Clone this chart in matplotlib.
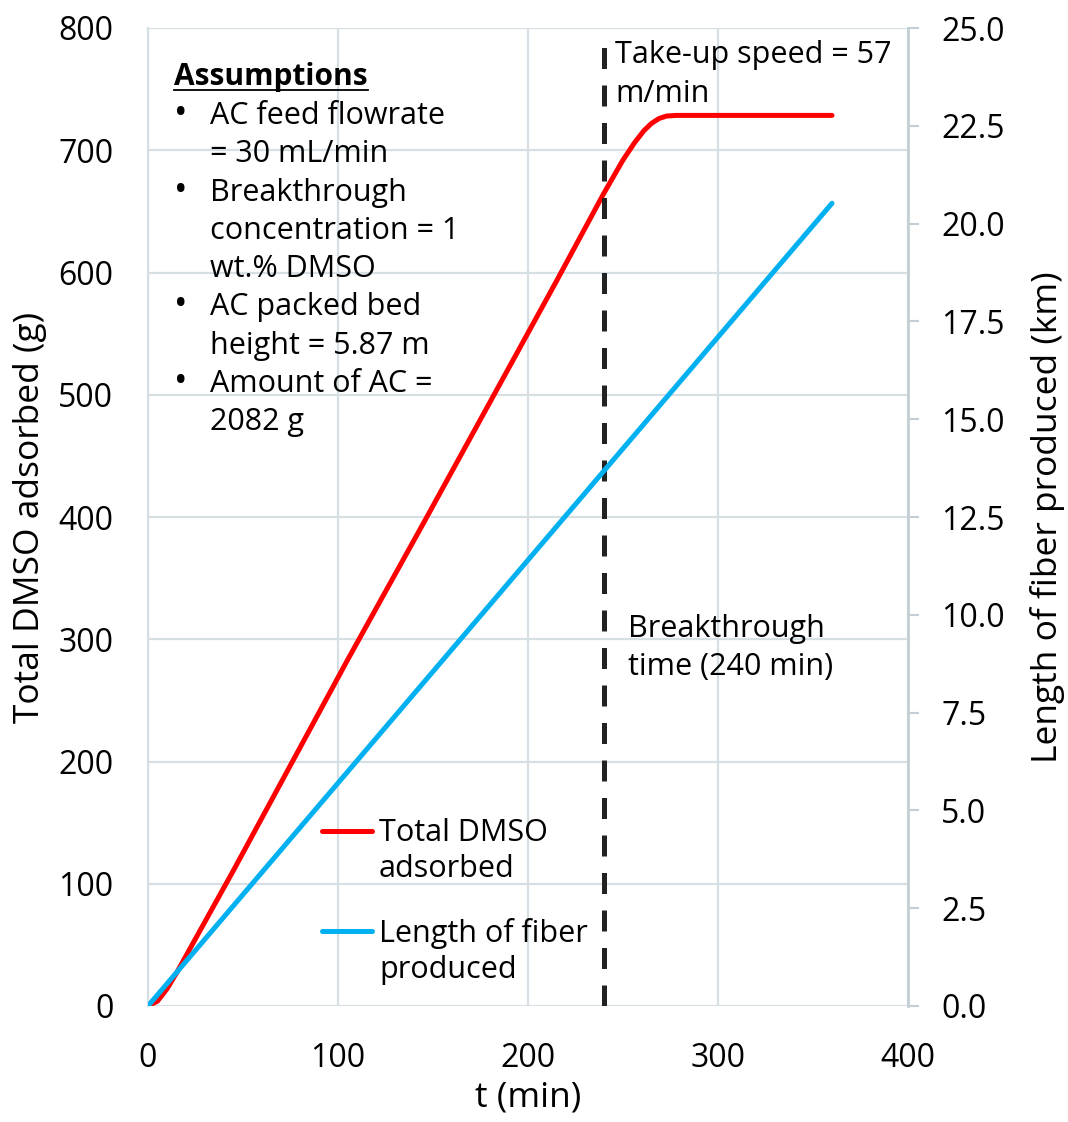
import matplotlib
matplotlib.use("Agg")
import matplotlib.pyplot as plt
from matplotlib.lines import Line2D
from matplotlib.ticker import FormatStrFormatter

W, H = 1068, 1122

# Total DMSO adsorbed (g) vs time (min)
t_dmso = [0, 5, 10, 15, 20, 30, 45, 75, 105, 145, 180, 215, 240, 250, 256,
          261, 265, 269, 273, 278, 300, 330, 360]
dmso_g = [0, 4, 14, 27, 41, 69, 111, 197, 283, 395, 494, 593, 665, 692, 706,
          716, 722, 726, 728, 728.5, 728.5, 728.5, 728.5]

# Length of fiber produced (km) vs time (min)
t_fiber = [0, 120, 240, 360]
fiber_km = [0, 6.84, 13.68, 20.52]

breakthrough_t = 240

assumptions = [
    ("•", "AC feed flowrate"),
    ("", "= 30 mL/min"),
    ("•", "Breakthrough"),
    ("", "concentration = 1"),
    ("", "wt.% DMSO"),
    ("•", "AC packed bed"),
    ("", "height = 5.87 m"),
    ("•", "Amount of AC ="),
    ("", "2082 g"),
]

RED = "#FF0000"
BLUE = "#00B0F0"
GRID = "#D6DFE3"
SPINE = "#C3CFD4"
FONT = "Open Sans"

plt.rcParams["font.family"] = [FONT, "DejaVu Sans"]

fig = plt.figure(figsize=(W / 100, H / 100), dpi=100)
ax = fig.add_axes([148 / W, (H - 1006) / H, 760 / W, 978 / H])
ax2 = ax.twinx()


def fx(px):
    return px / W


def fy(py):
    return 1 - py / H


ax.plot(t_dmso, dmso_g, color=RED, lw=3.6, solid_capstyle="round", zorder=4)
ax2.plot(t_fiber, fiber_km, color=BLUE, lw=3.6, solid_capstyle="round", zorder=4)
ax.plot([breakthrough_t, breakthrough_t], [0, 793], color="#222222", lw=3.6,
        dashes=(4.2, 3.3), zorder=5)

ax.set_xlim(0, 400)
ax.set_ylim(0, 800)
ax2.set_ylim(0, 25)
ax.set_xticks(range(0, 401, 100))
ax.set_yticks(range(0, 801, 100))
ax2.set_yticks([i * 2.5 for i in range(11)])
ax2.yaxis.set_major_formatter(FormatStrFormatter("%.1f"))

ax.grid(True, color=GRID, lw=1.6, zorder=0)
ax.set_axisbelow(True)
ax2.set_zorder(ax.get_zorder() + 1)
ax2.patch.set_visible(False)

for a in (ax, ax2):
    for s in a.spines.values():
        s.set_visible(False)
ax.spines["left"].set_visible(True)
ax.spines["left"].set_color(GRID)
ax.spines["left"].set_linewidth(1.6)
ax2.spines["right"].set_visible(True)
ax2.spines["right"].set_color(SPINE)
ax2.spines["right"].set_linewidth(2)

ax.tick_params(axis="x", length=0, pad=26, labelsize=23)
ax.tick_params(axis="y", length=0, pad=25, labelsize=23)
ax2.tick_params(axis="y", length=8, width=1.5, color=SPINE, direction="out",
                pad=16, labelsize=23)

ax.set_xlabel("t (min)", fontsize=25.5, labelpad=4)
ax.set_ylabel("Total DMSO adsorbed (g)", fontsize=25.5, labelpad=8)
ax2.set_ylabel("Length of fiber produced (km)", fontsize=25.5, labelpad=18)

# assumptions box
head = fig.text(fx(174), fy(85), "Assumptions", fontsize=21.5,
                fontweight="bold", va="baseline", color="black")
for i, (bullet, line) in enumerate(assumptions):
    yb = 124 + i * 38.3
    if bullet:
        fig.text(fx(174), fy(yb), bullet, fontsize=26, va="baseline",
                 color="black")
    fig.text(fx(210), fy(yb), line, fontsize=22, va="baseline", color="black")

# annotations
fig.text(fx(615), fy(63), "Take-up speed = 57", fontsize=22, va="baseline")
fig.text(fx(615), fy(101.5), "m/min", fontsize=22, va="baseline")
fig.text(fx(628), fy(637), "Breakthrough", fontsize=22, va="baseline")
fig.text(fx(628), fy(675), "time (240 min)", fontsize=22, va="baseline")

# legend
fig.add_artist(Line2D([fx(322), fx(372)], [fy(831), fy(831)], color=RED,
                      lw=3.6, solid_capstyle="round"))
fig.add_artist(Line2D([fx(322), fx(372)], [fy(931), fy(931)], color=BLUE,
                      lw=3.6, solid_capstyle="round"))
fig.text(fx(379), fy(841), "Total DMSO", fontsize=22, va="baseline")
fig.text(fx(379), fy(877), "adsorbed", fontsize=22, va="baseline")
fig.text(fx(379), fy(942), "Length of fiber", fontsize=22, va="baseline")
fig.text(fx(379), fy(978), "produced", fontsize=22, va="baseline")

# underline the heading
fig.canvas.draw()
bb = head.get_window_extent().transformed(fig.transFigure.inverted())
fig.add_artist(Line2D([bb.x0, bb.x1], [fy(89.5), fy(89.5)], color="black",
                      lw=1.3))

fig.savefig("out.png", dpi=100, facecolor="white")
